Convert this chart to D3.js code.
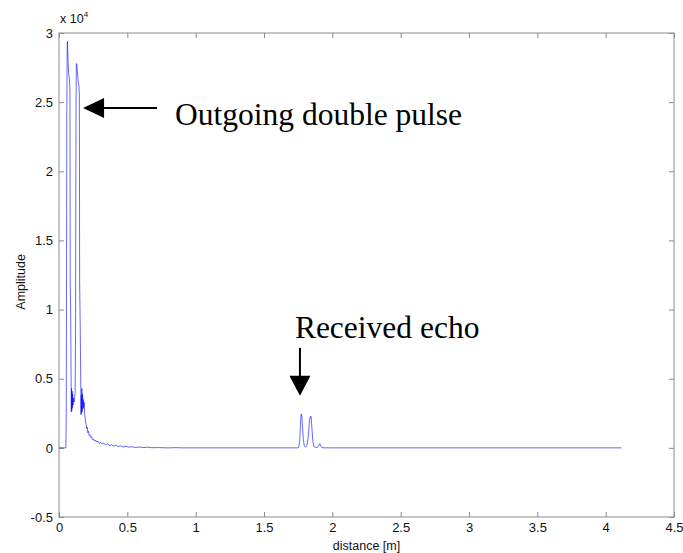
<!DOCTYPE html>
<html lang="en">
<head>
    <meta charset="UTF-8">
    <title>Amplitude vs distance</title>
    <script src="https://d3js.org/d3.v7.min.js"></script>
    <style>
        body { margin: 0; background: #fff; }
        .tick text { font-family: "Liberation Sans", Arial, sans-serif; font-size: 13px; fill: #111; }
        .axis-label { font-family: "Liberation Sans", Arial, sans-serif; font-size: 12.5px; fill: #111; }
        .note { font-family: "Liberation Serif", "Times New Roman", serif; font-size: 31.5px; fill: #000; }
    </style>
</head>
<body>
    <div id="chart"></div>
    <script>
        // distance [m] and amplitude (raw counts)
        const distance = [
            0.000, 0.040, 0.050, 0.053, 0.055, 0.057, 0.060, 0.062, 0.064, 0.067,
            0.071, 0.075, 0.078, 0.080, 0.081, 0.082, 0.085, 0.088, 0.090, 0.092,
            0.094, 0.096, 0.098, 0.100, 0.103, 0.106, 0.110, 0.114, 0.118, 0.121,
            0.123, 0.125, 0.127, 0.130, 0.134, 0.138, 0.142, 0.146, 0.149, 0.150,
            0.151, 0.155, 0.159, 0.161, 0.163, 0.165, 0.167, 0.169, 0.172, 0.175,
            0.178, 0.181, 0.184, 0.187, 0.191, 0.195, 0.199, 0.203, 0.207, 0.211,
            0.216, 0.221, 0.226, 0.232, 0.238, 0.245, 0.252, 0.260, 0.268, 0.276,
            0.285, 0.295, 0.305, 0.315, 0.325, 0.340, 0.355, 0.370, 0.385, 0.400,
            0.415, 0.430, 0.450, 0.470, 0.490, 0.510, 0.530, 0.560, 0.590, 0.620,
            0.650, 0.680, 0.720, 0.800, 0.850, 0.900, 1.745, 1.755, 1.762, 1.768,
            1.772, 1.776, 1.781, 1.788, 1.795, 1.805, 1.815, 1.825, 1.833, 1.840,
            1.845, 1.850, 1.857, 1.865, 1.875, 1.890, 1.903, 1.909, 1.915, 1.925,
            1.940, 4.115
        ];
        const amplitude = [
            0, 0, 0, 2000, 12000, 24000, 28800, 29400, 28800, 27800,
            27000, 26800, 26200, 25800, 19000, 12000, 10000, 6000, 2600, 4300,
            2700, 4100, 2900, 3900, 3100, 3600, 3300, 3500, 4000, 8000,
            18000, 25500, 27800, 27700, 27200, 26800, 26400, 26200, 25500, 19000,
            12000, 9000, 5000, 2400, 3800, 2500, 4300, 2600, 3900, 2800,
            3500, 2900, 3300, 2500, 2200, 1800, 1700, 1400, 1500, 1100,
            1200, 900, 950, 750, 800, 600, 650, 480, 560, 420,
            480, 330, 400, 280, 340, 230, 280, 170, 220, 130,
            190, 100, 140, 70, 110, 50, 80, 30, 60, 20,
            50, 10, 20, 0, 15, 0, 0, 50, 600, 2000,
            2450, 2400, 1700, 600, 150, 50, 200, 900, 2000, 2300,
            2250, 1500, 500, 100, 20, 30, 200, 300, 150, 20,
            0, 0
        ];

        const xTicks = [0, 0.5, 1, 1.5, 2, 2.5, 3, 3.5, 4, 4.5];
        const yTicks = [-5000, 0, 5000, 10000, 15000, 20000, 25000, 30000];

        // annotations in data units
        const outgoing = { text: "Outgoing double pulse", x: 0.849, y: 23360, arrowFrom: 0.717, arrowTo: 0.176, arrowY: 24580 };
        const echo = { text: "Received echo", x: 1.726, y: 7950, arrowX: 1.763, arrowFrom: 7230, arrowTo: 3760 };

        const W = 683, H = 553;
        const margin = { top: 33, right: 9, bottom: 36, left: 59 };
        const width = W - margin.left - margin.right;
        const height = H - margin.top - margin.bottom;

        const svg = d3.select("#chart").append("svg")
            .attr("width", W)
            .attr("height", H);

        const g = svg.append("g")
            .attr("transform", `translate(${margin.left},${margin.top})`);

        const x = d3.scaleLinear().domain([0, 4.5]).range([0, width]);
        const y = d3.scaleLinear().domain([-5000, 30000]).range([height, 0]);

        const boxColor = "#8c8c8c";

        // axes, ticks pointing inward like matlab
        const styleAxis = sel => {
            sel.select(".domain").remove();
            sel.selectAll(".tick line").attr("stroke", boxColor);
        };

        g.append("g")
            .attr("transform", `translate(0,${height})`)
            .call(d3.axisBottom(x).tickValues(xTicks).tickFormat(d => d).tickSizeInner(-5).tickSizeOuter(0).tickPadding(6))
            .call(styleAxis);

        g.append("g")
            .call(d3.axisTop(x).tickValues(xTicks).tickFormat("").tickSizeInner(-5).tickSizeOuter(0))
            .call(styleAxis);

        g.append("g")
            .call(d3.axisLeft(y).tickValues(yTicks).tickFormat(d => d / 1e4).tickSizeInner(-5).tickSizeOuter(0).tickPadding(6))
            .call(styleAxis);

        g.append("g")
            .attr("transform", `translate(${width},0)`)
            .call(d3.axisRight(y).tickValues(yTicks).tickFormat("").tickSizeInner(-5).tickSizeOuter(0))
            .call(styleAxis);

        g.selectAll(".tick text").attr("font-family", null).attr("font-size", null);

        g.append("rect")
            .attr("width", width)
            .attr("height", height)
            .attr("fill", "none")
            .attr("stroke", boxColor)
            .attr("stroke-width", 1);

        // signal
        const line = d3.line()
            .x((d, i) => x(distance[i]))
            .y(d => y(d));

        g.append("path")
            .datum(amplitude)
            .attr("fill", "none")
            .attr("stroke", "#0000ff")
            .attr("stroke-width", 0.6)
            .attr("d", line);

        // exponent label
        const exp = g.append("text")
            .attr("class", "axis-label")
            .attr("x", 1)
            .attr("y", -10);
        exp.append("tspan").text("x 10");
        exp.append("tspan").attr("dy", -6).attr("font-size", "8px").text("4");

        // axis labels
        g.append("text")
            .attr("class", "axis-label")
            .attr("text-anchor", "middle")
            .attr("x", width / 2)
            .attr("y", height + 33)
            .text("distance [m]");

        g.append("text")
            .attr("class", "axis-label")
            .attr("text-anchor", "middle")
            .attr("transform", `translate(${25 - margin.left},${y(12000)}) rotate(-90)`)
            .text("Amplitude");

        // annotations
        g.append("text")
            .attr("class", "note")
            .attr("x", x(outgoing.x))
            .attr("y", y(outgoing.y))
            .text(outgoing.text);

        const ax = x(outgoing.arrowTo), ay = y(outgoing.arrowY);
        g.append("line")
            .attr("x1", x(outgoing.arrowFrom)).attr("y1", ay)
            .attr("x2", ax + 20).attr("y2", ay)
            .attr("stroke", "#000").attr("stroke-width", 2);
        g.append("path")
            .attr("d", `M${ax},${ay} L${ax + 21},${ay - 10} L${ax + 21},${ay + 10} Z`)
            .attr("fill", "#000");

        g.append("text")
            .attr("class", "note")
            .attr("x", x(echo.x))
            .attr("y", y(echo.y))
            .text(echo.text);

        const bx = x(echo.arrowX), by = y(echo.arrowTo);
        g.append("line")
            .attr("x1", bx).attr("y1", y(echo.arrowFrom))
            .attr("x2", bx).attr("y2", by - 19)
            .attr("stroke", "#000").attr("stroke-width", 2);
        g.append("path")
            .attr("d", `M${bx},${by} L${bx - 10.5},${by - 20} L${bx + 10.5},${by - 20} Z`)
            .attr("fill", "#000");
    </script>
</body>
</html>
